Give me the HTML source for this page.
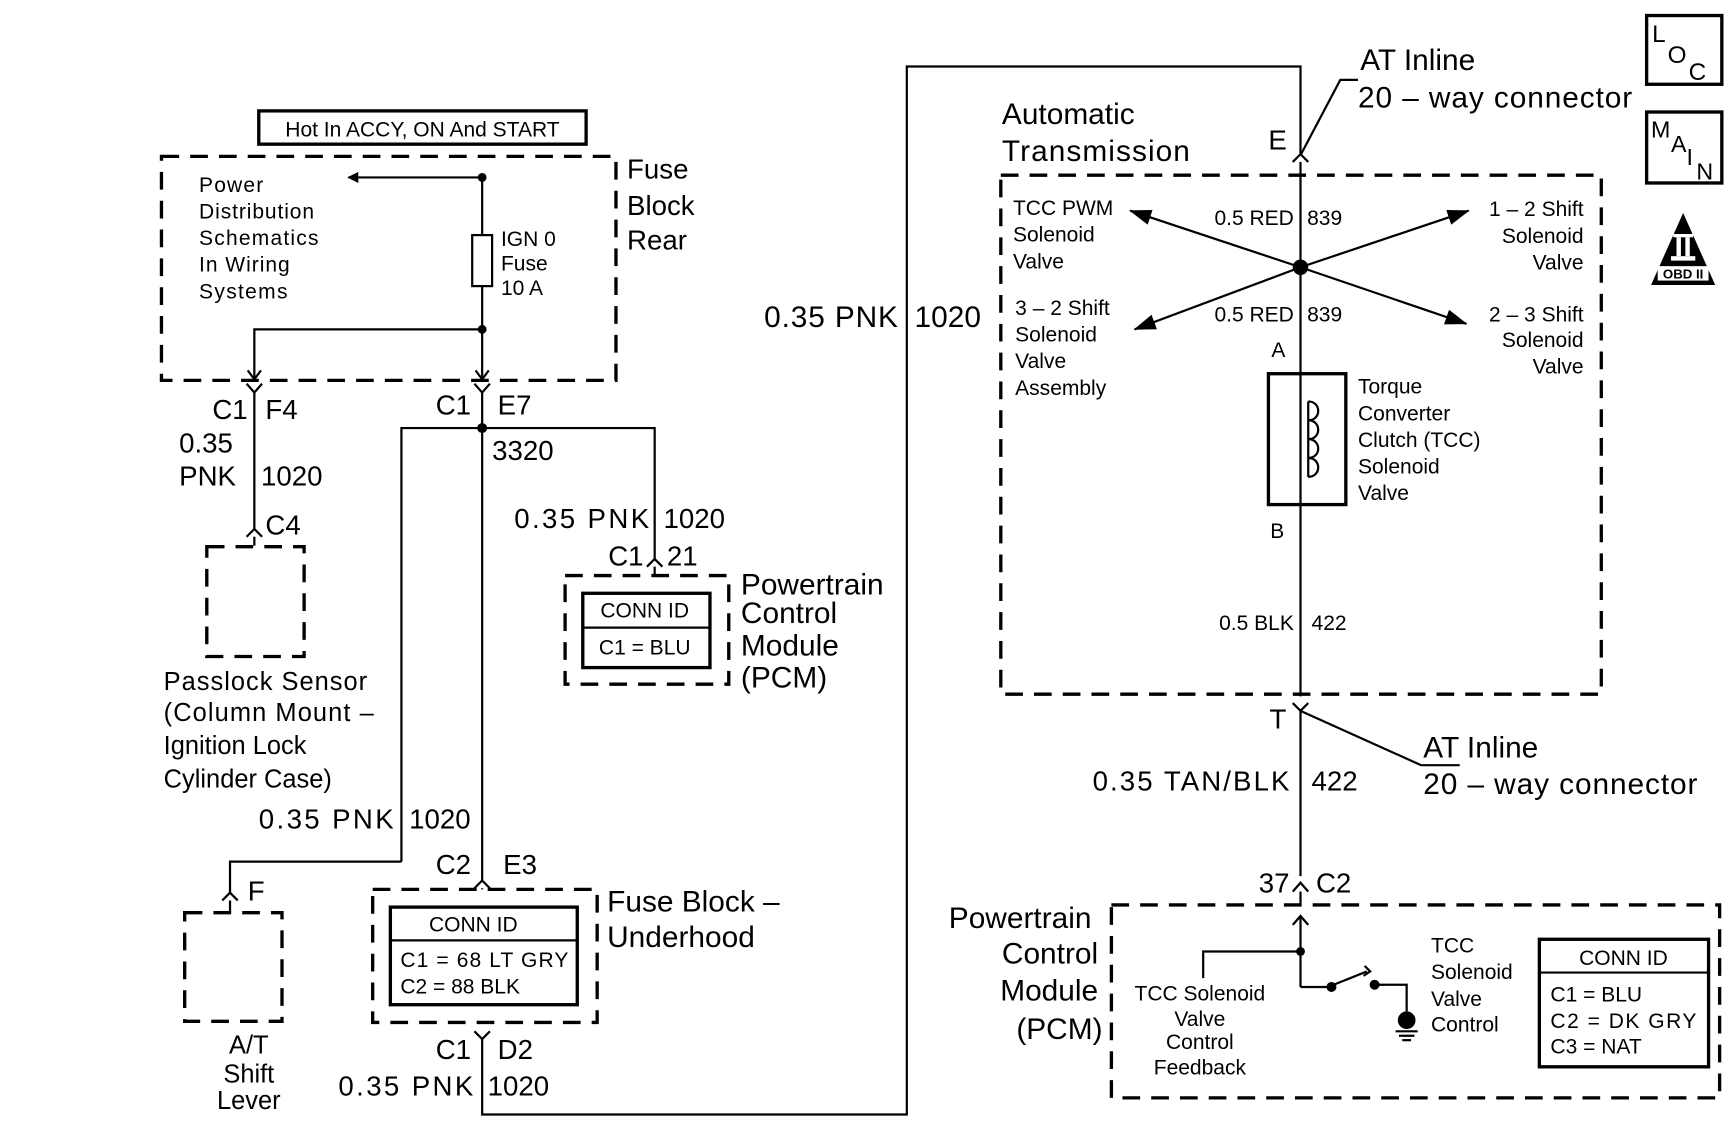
<!DOCTYPE html>
<html><head><meta charset="utf-8"><style>
html,body{margin:0;padding:0;background:#fff;}
svg{display:block;}
text{font-family:"Liberation Sans",sans-serif;fill:#000;}
</style></head><body>
<svg width="1734" height="1140" viewBox="0 0 1568 1028" preserveAspectRatio="none" xmlns="http://www.w3.org/2000/svg">
<defs>
<marker id="ah" markerWidth="10" markerHeight="10" refX="9" refY="5" orient="auto" markerUnits="userSpaceOnUse" viewBox="0 0 10 10"><path d="M0,0 L10,5 L0,10 z" fill="#000"/></marker>
<marker id="ah2" markerWidth="20" markerHeight="14" refX="19" refY="7" orient="auto" markerUnits="userSpaceOnUse" viewBox="0 0 20 14"><path d="M0,0 L20,7 L0,14 z" fill="#000"/></marker>
</defs>
<g fill="none" stroke="#000" stroke-width="2">
<rect x="234" y="100" width="296" height="30" stroke-width="3"/>
<g stroke-width="3" stroke-dasharray="16,10">
<rect x="146" y="141" width="411" height="202"/>
<rect x="187" y="493" width="88" height="99"/>
<rect x="511" y="519" width="148" height="98"/>
<rect x="337" y="802" width="203" height="120"/>
<rect x="167" y="823" width="88" height="98"/>
<rect x="905" y="158" width="543" height="468"/>
<rect x="1005" y="816" width="550" height="174"/>
</g>
<rect x="527" y="535" width="115" height="67" stroke-width="3"/>
<line x1="527" y1="566" x2="642" y2="566"/>
<rect x="353" y="818" width="169" height="88" stroke-width="3"/>
<line x1="353" y1="848" x2="522" y2="848"/>
<rect x="1392" y="847" width="153" height="115" stroke-width="3"/>
<line x1="1392" y1="877" x2="1545" y2="877"/>
<line x1="436" y1="160" x2="315" y2="160" marker-end="url(#ah)"/>
<line x1="436" y1="160" x2="436" y2="212"/>
<rect x="427" y="212" width="18" height="46"/>
<line x1="436" y1="258" x2="436" y2="342"/>
<polyline points="436,297 230,297 230,342"/>
<polyline points="224,334 230,342 236,334"/>
<polyline points="430,334 436,342 442,334"/>
<polyline points="223,346 230,354 237,346"/>
<line x1="230" y1="354" x2="230" y2="478"/>
<polyline points="223,484 230,477 237,484"/>
<line x1="230" y1="484" x2="230" y2="492"/>
<polyline points="429,346 436,354 443,346"/>
<line x1="436" y1="354" x2="436" y2="795"/>
<polyline points="429,801 436,794 443,801"/>
<line x1="436" y1="801" x2="436" y2="802"/>
<polyline points="363,777 363,386 592,386 592,505"/>
<polyline points="585,511 592,504 599,511"/>
<line x1="592" y1="511" x2="592" y2="519"/>
<polyline points="363,777 208,777 208,806"/>
<polyline points="201,812 208,805 215,812"/>
<line x1="208" y1="812" x2="208" y2="823"/>
<polyline points="429,930 436,937 443,930"/>
<polyline points="436,937 436,1005 820,1005 820,60 1176,60 1176,140"/>
<polyline points="1169,146 1176,139 1183,146"/>
<line x1="1176" y1="146" x2="1176" y2="628"/>
<polyline points="1169,634 1176,641 1183,634"/>
<line x1="1176" y1="641" x2="1176" y2="790"/>
<polyline points="1169,804 1176,796 1183,804"/>
<line x1="1176" y1="804" x2="1176" y2="816"/>
<polyline points="1176,140 1212,72 1228,72"/>
<polyline points="1176,641 1285,690 1320,690"/>
<line x1="1176" y1="241" x2="1022" y2="190" marker-end="url(#ah2)"/>
<line x1="1176" y1="241" x2="1328" y2="190" marker-end="url(#ah2)"/>
<line x1="1176" y1="241" x2="1026" y2="297" marker-end="url(#ah2)"/>
<line x1="1176" y1="241" x2="1326" y2="292" marker-end="url(#ah2)"/>
<rect x="1147" y="337" width="70" height="118" stroke-width="3" fill="#fff"/>
<line x1="1176" y1="337" x2="1176" y2="455"/>
<path d="M1183,362 c12,0 12,17 0,17 c12,0 12,17 0,17 c12,0 12,17 0,17 c12,0 12,17 0,17 M1183,362 L1183,430"/>
<line x1="1176" y1="827" x2="1176" y2="890"/>
<polyline points="1169,834 1176,826 1183,834"/>
<polyline points="1176,858 1088,858 1088,882"/>
<polyline points="1176,890 1200,890"/>
<circle cx="1204" cy="890" r="3.5" fill="#000"/>
<line x1="1206" y1="888" x2="1236" y2="876"/>
<polyline points="1234,871 1239,876 1233,880"/>
<circle cx="1243" cy="888" r="3.5" fill="#000"/>
<polyline points="1247,888 1272,888 1272,912"/>
<line x1="1262" y1="930" x2="1282" y2="930"/>
<line x1="1265" y1="934" x2="1279" y2="934"/>
<line x1="1268" y1="938" x2="1276" y2="938"/>
<rect x="1489" y="14" width="68" height="62" stroke-width="3"/>
<rect x="1489" y="101" width="68" height="64" stroke-width="3"/>
</g>
<circle cx="1272" cy="920" r="8" fill="#000"/>
<circle cx="436" cy="160" r="4"/>
<circle cx="436" cy="297" r="4"/>
<circle cx="436" cy="386" r="4.5"/>
<circle cx="1176" cy="241" r="7"/>
<circle cx="1176" cy="858" r="4"/>
<polygon points="1522,192 1493,257 1551,257" fill="#000"/>
<rect x="1499" y="240" width="46" height="13" fill="#fff"/>
<rect x="1513" y="211" width="18" height="3" fill="#fff"/>
<rect x="1516" y="214" width="4" height="17" fill="#fff"/>
<rect x="1524" y="214" width="4" height="17" fill="#fff"/>
<rect x="1511" y="231" width="22" height="4" fill="#fff"/>
<text x="1522" y="251" font-size="12" font-weight="bold" text-anchor="middle">OBD II</text>
<text x="1494" y="38" font-size="22">L</text><text x="1508" y="57" font-size="22">O</text><text x="1527" y="72" font-size="22">C</text>
<text x="1493" y="124" font-size="21">M</text><text x="1511" y="137" font-size="21">A</text><text x="1525" y="149" font-size="21">I</text><text x="1534" y="162" font-size="21">N</text>

<g font-size="19" transform="scale(0.92,1)">
<g transform="scale(1.0869565,1)">
<text x="382" y="123" text-anchor="middle">Hot In ACCY, ON And START</text>
</g>
</g>
<g font-size="19">
<text x="180" y="173" textLength="58">Power</text><text x="180" y="197" textLength="104">Distribution</text><text x="180" y="221" textLength="108">Schematics</text><text x="180" y="245" textLength="82">In Wiring</text><text x="180" y="269" textLength="80">Systems</text>
<text x="453" y="222">IGN 0</text><text x="453" y="244">Fuse</text><text x="453" y="266">10 A</text>
<text x="583" y="557" text-anchor="middle">CONN ID</text><text x="583" y="590" text-anchor="middle">C1 = BLU</text>
<text x="428" y="840" text-anchor="middle">CONN ID</text><text x="362" y="872" textLength="152">C1 = 68 LT GRY</text><text x="362" y="896">C2 = 88 BLK</text>
<text x="1468" y="870" text-anchor="middle">CONN ID</text><text x="1402" y="903">C1 = BLU</text><text x="1402" y="927" textLength="132">C2 = DK GRY</text><text x="1402" y="950">C3 = NAT</text>
<text x="1170" y="203" text-anchor="end">0.5 RED</text><text x="1182" y="203">839</text>
<text x="1170" y="290" text-anchor="end">0.5 RED</text><text x="1182" y="290">839</text>
<text x="1170" y="568" text-anchor="end">0.5 BLK</text><text x="1186" y="568">422</text>
<text x="916" y="194">TCC PWM</text><text x="916" y="218">Solenoid</text><text x="916" y="242">Valve</text>
<text x="918" y="284">3 – 2 Shift</text><text x="918" y="308">Solenoid</text><text x="918" y="332">Valve</text><text x="918" y="356">Assembly</text>
<g text-anchor="end"><text x="1432" y="195">1 – 2 Shift</text><text x="1432" y="219">Solenoid</text><text x="1432" y="243">Valve</text>
<text x="1432" y="290">2 – 3 Shift</text><text x="1432" y="313">Solenoid</text><text x="1432" y="337">Valve</text></g>
<text x="1156" y="322" text-anchor="middle">A</text><text x="1155" y="485" text-anchor="middle">B</text>
<text x="1228" y="355">Torque</text><text x="1228" y="379">Converter</text><text x="1228" y="403">Clutch (TCC)</text><text x="1228" y="427">Solenoid</text><text x="1228" y="451">Valve</text>
<g text-anchor="middle"><text x="1085" y="902">TCC Solenoid</text><text x="1085" y="925">Valve</text><text x="1085" y="946">Control</text><text x="1085" y="969">Feedback</text></g>
<text x="1294" y="859">TCC</text><text x="1294" y="883">Solenoid</text><text x="1294" y="907">Valve</text><text x="1294" y="930">Control</text>
</g>

<g font-size="25">
<text x="567" y="161">Fuse</text><text x="567" y="194">Block</text><text x="567" y="225">Rear</text>
<text x="192" y="378">C1</text><text x="240" y="378">F4</text>
<text x="162" y="408">0.35</text><text x="162" y="438">PNK</text><text x="236" y="438">1020</text>
<text x="240" y="482">C4</text>
<text x="394" y="374">C1</text><text x="450" y="374">E7</text>
<text x="445" y="415">3320</text>
<text x="465" y="476" textLength="122">0.35 PNK</text><text x="600" y="476">1020</text>
<text x="550" y="510">C1</text><text x="603" y="510">21</text>
<text x="234" y="747" textLength="122">0.35 PNK</text><text x="370" y="747">1020</text>
<text x="394" y="788">C2</text><text x="455" y="788">E3</text>
<text x="224" y="812">F</text>
<text x="394" y="955">C1</text><text x="450" y="955">D2</text>
<text x="306" y="988" textLength="122">0.35 PNK</text><text x="441" y="988">1020</text>
<text x="1147" y="135">E</text><text x="1148" y="657">T</text>
<text x="988" y="713" textLength="178">0.35 TAN/BLK</text><text x="1186" y="713">422</text>
<text x="1166" y="805" text-anchor="end">37</text><text x="1190" y="805">C2</text>
</g>
<g font-size="23">
<text x="148" y="622" textLength="184">Passlock Sensor</text><text x="148" y="650" textLength="190">(Column Mount –</text><text x="148" y="680">Ignition Lock</text><text x="148" y="710">Cylinder Case)</text>
<g text-anchor="middle"><text x="225" y="950">A/T</text><text x="225" y="976">Shift</text><text x="225" y="1000">Lever</text></g>
</g>
<g font-size="27">
<text x="670" y="536">Powertrain</text><text x="670" y="562">Control</text><text x="670" y="591">Module</text><text x="670" y="620">(PCM)</text>
<text x="549" y="822">Fuse Block –</text><text x="549" y="854">Underhood</text>
<text x="691" y="295" textLength="121">0.35 PNK</text><text x="827" y="295">1020</text>
<text x="906" y="112">Automatic</text><text x="906" y="145" textLength="170">Transmission</text>
<text x="1230" y="63">AT Inline</text><text x="1228" y="97" textLength="248">20 – way connector</text>
<text x="1287" y="683">AT Inline</text><text x="1287" y="716" textLength="248">20 – way connector</text>
<g text-anchor="end"><text x="987" y="837">Powertrain</text><text x="993" y="869">Control</text><text x="993" y="902">Module</text><text x="997" y="937">(PCM)</text></g>
</g>
</svg>
</body></html>
